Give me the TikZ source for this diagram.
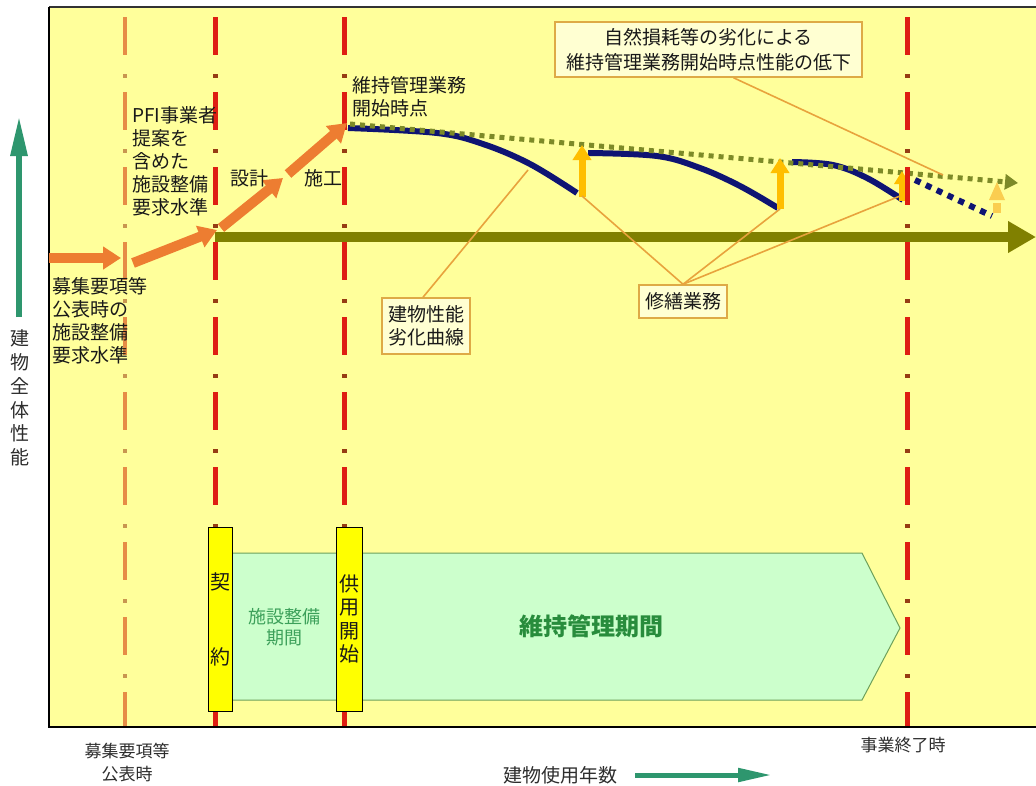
\documentclass[tikz,border=0pt]{standalone}
\usepackage{fontspec}
\setmainfont{Noto Sans CJK JP}
\usetikzlibrary{arrows.meta}
\definecolor{bgyellow}{RGB}{255,255,155}
\definecolor{txtcol}{RGB}{25,25,25}
\definecolor{graytxt}{RGB}{45,45,45}
\definecolor{redline}{RGB}{222,30,18}
\definecolor{reddot}{RGB}{150,60,20}
\definecolor{orline}{RGB}{230,140,70}
\definecolor{ordot}{RGB}{200,150,80}
\definecolor{orarrow}{RGB}{237,125,49}
\definecolor{olivearr}{RGB}{128,128,0}
\definecolor{olivedot}{RGB}{125,138,40}
\definecolor{navycurve}{RGB}{15,20,115}
\definecolor{gold}{RGB}{255,190,0}
\definecolor{lightgold}{RGB}{250,205,80}
\definecolor{leadercol}{RGB}{232,163,61}
\definecolor{calloutborder}{RGB}{222,170,70}
\definecolor{calloutfill}{RGB}{255,255,210}
\definecolor{axisgreen}{RGB}{46,150,110}
\definecolor{bandgreen}{RGB}{204,255,204}
\definecolor{bandborder}{RGB}{110,160,90}
\definecolor{periodgreen}{RGB}{60,160,90}
\definecolor{darkgreen}{RGB}{40,140,60}
\definecolor{boxyellow}{RGB}{255,255,0}
\newcommand\myfs[2]{\fontsize{#1}{#2}\selectfont}
\begin{document}
\begin{tikzpicture}[x=1pt,y=-1pt,
  txt/.style={inner sep=0pt, text=txtcol, font=\myfs{19}{23}},
  reddash/.style={draw=redline, line width=5pt, dash pattern=on 38pt off 37pt},
  reddots/.style={draw=reddot, line width=5pt, dash pattern=on 4pt off 71pt, dash phase=18pt},
  ordash/.style={draw=orline, line width=4pt, dash pattern=on 38pt off 37pt},
  ordots/.style={draw=ordot, line width=4pt, dash pattern=on 4pt off 71pt, dash phase=18pt},
  orarr/.style={draw=orarrow, line width=10pt, -{Triangle[length=18pt,width=22pt]}},
  navyline/.style={draw=navycurve, line width=6pt},
  goldarr/.style={draw=gold, line width=7pt, -{Triangle[length=15pt,width=18pt]}},
  leader/.style={draw=leadercol, line width=1.6pt},
  callout/.style={draw=calloutborder, fill=calloutfill, line width=1.5pt, inner sep=0pt, align=center, text=txtcol, font=\myfs{19}{23}},
  vbox/.style={draw=black, fill=boxyellow, line width=1pt, inner sep=0pt, align=center, text=txtcol, font=\myfs{20}{23.5}},
  ]
\useasboundingbox (0,0) rectangle (1036,785);
\fill[white] (0,0) rectangle (1036,785);
% plot area
\fill[bgyellow] (49,7) rectangle (1036,727);
\draw[black!80, line width=1.5pt] (49,7) -- (1036,7);

% vertical dash-dot lines
\coordinate (o1t) at (125,17); \coordinate (o1b) at (125,727);
\coordinate (r1t) at (215,17); \coordinate (r1b) at (215,727);
\coordinate (r2t) at (344,17); \coordinate (r2b) at (344,727);
\coordinate (r3t) at (907,17); \coordinate (r3b) at (907,727);
\draw[ordash] (o1t) -- (o1b);
\draw[ordots] (o1t) -- (o1b);
\foreach \a/\b in {r1t/r1b, r2t/r2b, r3t/r3b}{
  \draw[reddash] (\a) -- (\b);
  \draw[reddots] (\a) -- (\b);
}

% band
\draw[fill=bandgreen, draw=bandborder, line width=1pt] (226,553) -- (862,553) -- (900,628) -- (862,700) -- (226,700) -- cycle;
\node[vbox, minimum width=24pt, minimum height=184pt] (keiyaku) at (220,619) {契\\[51.5pt]約};
\node[vbox, minimum width=26pt, minimum height=184pt] (kyoyo) at (349,619) {供\\用\\開\\始};
\node[inner sep=0pt, align=center, text=periodgreen, font=\myfs{18}{21}] (seibi) at (284,627) {施設整備\\期間};
\node[inner sep=0pt, text=darkgreen, font=\myfs{24}{28}\bfseries] (iji) at (591,626) {維持管理期間};

% frame lines
\draw[black, line width=2pt] (49,7) -- (49,727);
\draw[black, line width=2.5pt] (48,727) -- (1036,727);

% olive main arrow
\coordinate (ola) at (215,237); \coordinate (olb) at (1036,237);
\draw[draw=olivearr, line width=10pt, -{Triangle[length=28pt,width=30pt]}] (ola) -- (olb);

% orange arrows
\coordinate (a0) at (49,258); \coordinate (a1) at (121,258);
\coordinate (a2) at (133,263); \coordinate (a3) at (217,230);
\coordinate (a4) at (221,228); \coordinate (a5) at (283,178);
\coordinate (a6) at (288,174); \coordinate (a7) at (347,123);
\draw[orarr] (a0) -- (a1);
\draw[orarr] (a2) -- (a3);
\draw[orarr] (a4) -- (a5);
\draw[orarr] (a6) -- (a7);

% navy curves
\draw[navyline] plot[smooth, tension=0.6] coordinates {(348,128) (437,133) (483,144) (530,164) (577,193)};
\draw[navyline] plot[smooth, tension=0.6] coordinates {(588,153) (657,156) (700,168) (740,186) (778,208)};
\draw[navyline] plot[smooth, tension=0.6] coordinates {(792,162) (833,165) (867,178) (903,200)};
\coordinate (n0) at (915,180); \coordinate (n1) at (992,216);
\draw[navyline, dash pattern=on 6pt off 6pt] (n0) -- (n1);

% olive dotted line
\coordinate (d0) at (350,124); \coordinate (d1) at (1018,183);
\draw[draw=olivedot, line width=5pt, dash pattern=on 5pt off 5pt, -{Triangle[length=13pt,width=15pt]}] (d0) -- (d1);

% gold repair arrows
\coordinate (g1a) at (582,197); \coordinate (g1b) at (582,145);
\coordinate (g2a) at (780,209); \coordinate (g2b) at (780,158);
\coordinate (g3a) at (902,201); \coordinate (g3b) at (902,171);
\draw[goldarr] (g1a) -- (g1b);
\draw[goldarr] (g2a) -- (g2b);
\draw[draw=gold, line width=6pt, -{Triangle[length=13pt,width=15pt]}] (g3a) -- (g3b);
\fill[lightgold] (993,203) rectangle (1001,213);
\fill[lightgold] (989,200) -- (1005,200) -- (997,182) -- cycle;

% red line dash drawn over the small arrow near x=907
\draw[reddash] (r3t) -- (907,240);

% callouts
\node[callout, minimum width=307pt, minimum height=55pt] (topnote) at (708.5,49.5) {自然損耗等の劣化による\\[2pt]維持管理業務開始時点性能の低下};
\node[callout, minimum width=88pt, minimum height=56pt] (rekka) at (426,326) {建物性能\\劣化曲線};
\node[callout, minimum width=88pt, minimum height=33pt] (shuzen) at (683,301.5) {修繕業務};

\coordinate (c1) at (528,170);
\coordinate (c2) at (943,175);
\coordinate (s1) at (582,196);
\coordinate (s2) at (780,209);
\coordinate (s3) at (900,196);
\draw[leader] ([xshift=-3pt]rekka.north) -- (c1);
\draw[leader] ([xshift=25pt]topnote.south) -- (c2);
\draw[leader] (shuzen.north) -- (s1);
\draw[leader] (shuzen.north) -- (s2);
\draw[leader] (shuzen.north) -- (s3);

% texts in plot
\node[txt, anchor=west, align=left] (pfi) at (132,161) {PFI事業者\\提案を\\含めた\\施設整備\\要求水準};
\node[txt, anchor=west, align=left] (boshu) at (52,321) {募集要項等\\公表時の\\施設整備\\要求水準};
\node[txt] (sekkei) at (249,178) {設計};
\node[txt] (seko) at (323,178) {施工};
\node[txt, anchor=west, align=left] (kaishi) at (352,96.5) {維持管理業務\\開始時点};

% y axis
\coordinate (ya) at (19,317); \coordinate (yb) at (19,116);
\draw[draw=axisgreen, line width=6pt, -{Triangle[length=40pt,width=16pt]}] (ya) -- (yb);
\node[inner sep=0pt, align=center, text=graytxt, font=\myfs{19}{23.8}] (ylabel) at (20,398) {建\\物\\全\\体\\性\\能};

% bottom labels
\node[inner sep=0pt, align=center, text=graytxt, font=\myfs{17}{23}] (bl1) at (127,763) {募集要項等\\公表時};
\node[inner sep=0pt, text=graytxt, font=\myfs{17}{23}] (bl2) at (903,745) {事業終了時};
\node[inner sep=0pt, text=graytxt, font=\myfs{19}{23}] (xlabel) at (560,775) {建物使用年数};
\coordinate (xa) at (635,775); \coordinate (xb) at (772,775);
\draw[draw=axisgreen, line width=5pt, -{Triangle[length=34pt,width=13pt]}] (xa) -- (xb);
\end{tikzpicture}
\end{document}
